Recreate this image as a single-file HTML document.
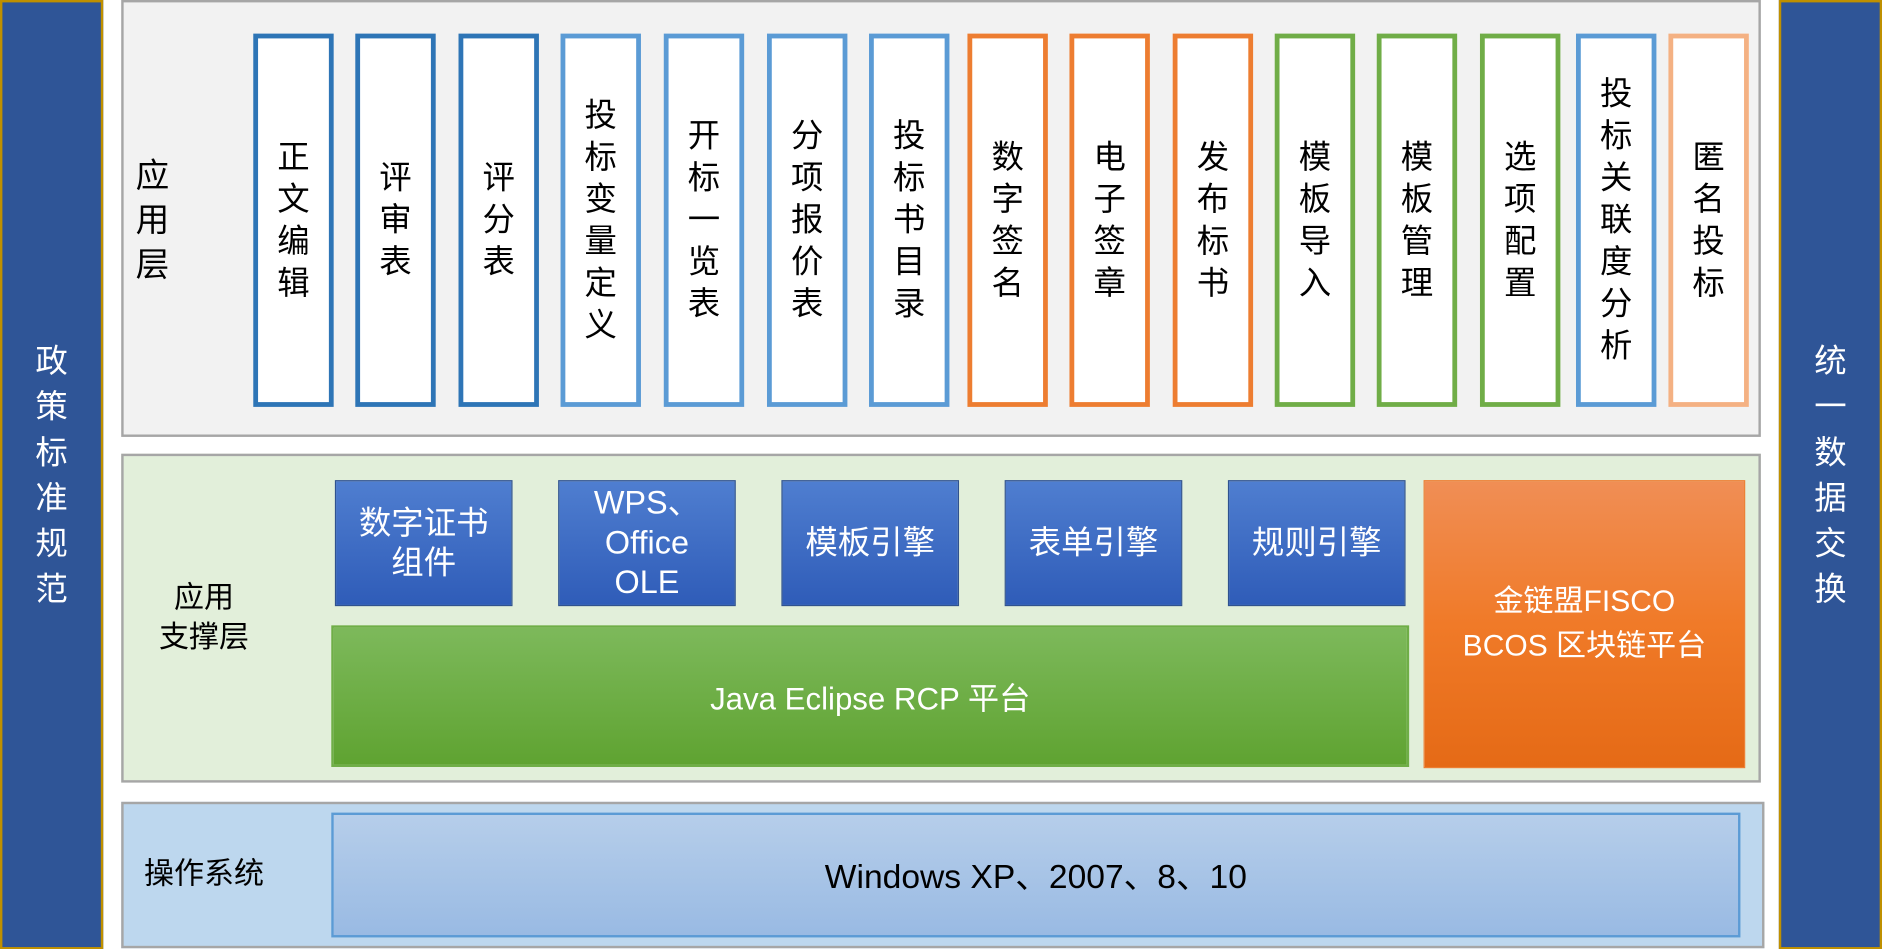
<!DOCTYPE html>
<html><head><meta charset="utf-8"><style>
html,body{margin:0;padding:0;width:1882px;height:949px;overflow:hidden;background:#fff}
#s{position:absolute;left:0;top:0;width:1568px;height:791px;transform:scale(1.2003);transform-origin:0 0;font-family:"Liberation Sans","Noto Sans CJK SC",sans-serif}
.a{position:absolute;box-sizing:border-box}
.side{background:#2F5597;border:2px solid #BF9000;color:#fff;font-size:27px;line-height:38px;display:flex;align-items:center;justify-content:center;text-align:center}
.col{top:28px;width:67px;height:311px;background:#fff;border:4px solid #2E75B6;display:flex;align-items:center;justify-content:center;font-size:27px;line-height:35px;text-align:center;color:#000}
.bb{top:400px;width:148px;height:105px;background:linear-gradient(#4F7ED0,#2F5CB8);border:1px solid #2F528F;color:#fff;font-size:27px;line-height:33px;display:flex;align-items:center;justify-content:center;text-align:center}
.lbl{font-size:25px;line-height:33px;color:#000}
</style></head><body><div id="s">
<div class="a side" style="left:0;top:0;width:86px;height:791px">政<br>策<br>标<br>准<br>规<br>范</div>
<div class="a side" style="left:1482px;top:0;width:86px;height:791px">统<br>一<br>数<br>据<br>交<br>换</div>

<div class="a" style="left:101px;top:0;width:1366px;height:364px;background:#F2F2F2;border:2px solid #A6A6A6"></div>
<div class="a lbl" style="left:113px;top:128px;width:32px;font-size:28px;line-height:37px">应<br>用<br>层</div>

<div class="a col" style="left:211px">正<br>文<br>编<br>辑</div>
<div class="a col" style="left:296px">评<br>审<br>表</div>
<div class="a col" style="left:382px">评<br>分<br>表</div>
<div class="a col" style="left:467px;border-color:#5B9BD5">投<br>标<br>变<br>量<br>定<br>义</div>
<div class="a col" style="left:553px;border-color:#5B9BD5">开<br>标<br>一<br>览<br>表</div>
<div class="a col" style="left:639px;border-color:#5B9BD5">分<br>项<br>报<br>价<br>表</div>
<div class="a col" style="left:724px;border-color:#5B9BD5">投<br>标<br>书<br>目<br>录</div>
<div class="a col" style="left:806px;border-color:#ED7D31">数<br>字<br>签<br>名</div>
<div class="a col" style="left:891px;border-color:#ED7D31">电<br>子<br>签<br>章</div>
<div class="a col" style="left:977px;border-color:#ED7D31">发<br>布<br>标<br>书</div>
<div class="a col" style="left:1062px;border-color:#70AD47">模<br>板<br>导<br>入</div>
<div class="a col" style="left:1147px;border-color:#70AD47">模<br>板<br>管<br>理</div>
<div class="a col" style="left:1233px;border-color:#70AD47">选<br>项<br>配<br>置</div>
<div class="a col" style="left:1313px;border-color:#5B9BD5">投<br>标<br>关<br>联<br>度<br>分<br>析</div>
<div class="a col" style="left:1390px;border-color:#F4B183">匿<br>名<br>投<br>标</div>

<div class="a" style="left:101px;top:378px;width:1366px;height:274px;background:#E2EFDA;border:2px solid #A6A6A6"></div>
<div class="a lbl" style="left:120px;top:482px;width:100px;text-align:center;line-height:33px">应用<br>支撑层</div>
<div class="a bb" style="left:279px">数字证书<br>组件</div>
<div class="a bb" style="left:465px">WPS、<br>Office<br>OLE</div>
<div class="a bb" style="left:651px">模板引擎</div>
<div class="a bb" style="left:837px">表单引擎</div>
<div class="a bb" style="left:1023px">规则引擎</div>
<div class="a" style="left:276px;top:521px;width:898px;height:118px;background:linear-gradient(#7DB95B,#5FA331);border:2px solid #6FAE47;color:#fff;font-size:26px;display:flex;align-items:center;justify-content:center">Java Eclipse RCP 平台</div>
<div class="a" style="left:1186px;top:400px;width:268px;height:240px;background:linear-gradient(#F08E55,#F07A28 50%,#E56A16);border:1px solid #ED7D31;color:#fff;font-size:25px;line-height:37px;display:flex;align-items:center;justify-content:center;text-align:center">金链盟FISCO<br>BCOS 区块链平台</div>

<div class="a" style="left:101px;top:668px;width:1369px;height:122px;background:#BDD7EE;border:2px solid #A6A6A6"></div>
<div class="a lbl" style="left:120px;top:712px">操作系统</div>
<div class="a" style="left:276px;top:677px;width:1174px;height:104px;background:linear-gradient(#B6CEEA,#99BAE3);border:2px solid #5B9BD5;color:#000;font-size:28px;display:flex;align-items:center;justify-content:center">Windows XP、2007、8、10</div>
</div></body></html>
